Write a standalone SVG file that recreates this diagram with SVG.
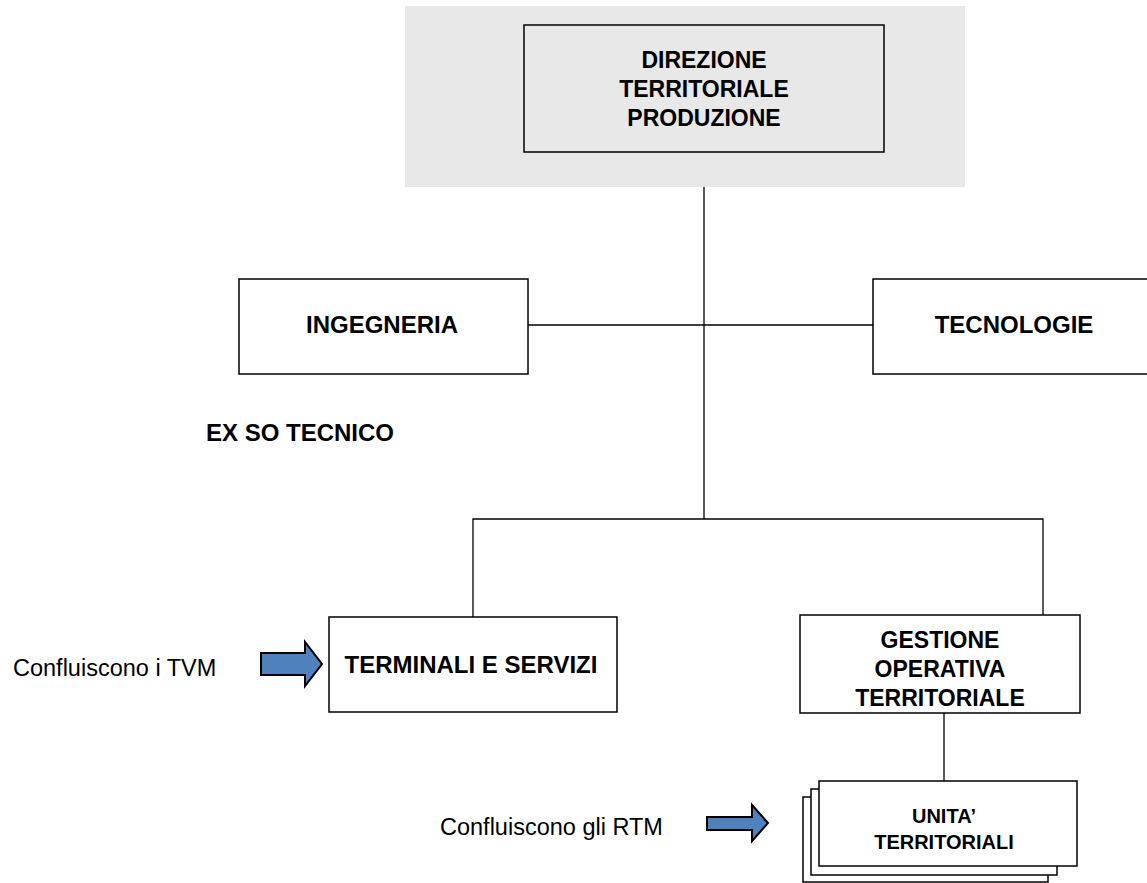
<svg xmlns="http://www.w3.org/2000/svg" width="1147" height="883" viewBox="0 0 1147 883">
<style>
.box{fill:#fff;stroke:#000;stroke-width:1.5}
.b{font-family:"Liberation Sans",Arial,sans-serif;font-weight:bold;font-size:24px;fill:#000;text-anchor:middle}
.m{font-size:23px}
.r{font-family:"Liberation Sans",Arial,sans-serif;font-size:23.5px;fill:#000}
.conn{fill:none;stroke:#000;stroke-width:1.3}
.arr{fill:#4f81bd;stroke:#000;stroke-width:2;stroke-linejoin:miter}
</style>
<rect x="405" y="6" width="560" height="181" fill="#e8e8e8"/>
<g id="connectors">
<path class="conn" d="M704 187V519"/>
<path class="conn" d="M528 325H873"/>
<path class="conn" d="M473 617V519H1043V615"/>
<path class="conn" d="M944 713V781"/>
</g>
<g id="direzione">
<rect x="524" y="25" width="360" height="127" fill="#e8e8e8" stroke="#000" stroke-width="1.5"/>
<text class="b m" x="704" y="68">DIREZIONE</text>
<text class="b m" x="704" y="97">TERRITORIALE</text>
<text class="b m" x="704" y="126">PRODUZIONE</text>
</g>
<g id="ingegneria">
<rect class="box" x="239" y="279" width="289" height="95"/>
<text class="b" x="382" y="333">INGEGNERIA</text>
</g>
<g id="tecnologie">
<rect class="box" x="873" y="279" width="290" height="95"/>
<text class="b" x="1014" y="333">TECNOLOGIE</text>
</g>
<text class="b" x="300" y="441">EX SO TECNICO</text>
<g id="terminali">
<rect class="box" x="329" y="617" width="288" height="95"/>
<text class="b" x="471" y="673">TERMINALI E SERVIZI</text>
</g>
<g id="gestione">
<rect class="box" x="800" y="615" width="280" height="98"/>
<text class="b m" x="940" y="648">GESTIONE</text>
<text class="b m" x="940" y="677">OPERATIVA</text>
<text class="b m" x="940" y="706">TERRITORIALE</text>
</g>
<g id="unita">
<rect class="box" x="803" y="797" width="245" height="85"/>
<rect class="box" x="811" y="789" width="246" height="86"/>
<rect class="box" x="819" y="781" width="258" height="85"/>
<text class="b" x="944" y="823" style="font-size:20px">UNITA’</text>
<text class="b" x="944" y="849" style="font-size:20px">TERRITORIALI</text>
</g>
<g id="tvm">
<text class="r" x="13" y="676">Confluiscono i TVM</text>
<path class="arr" d="M261 653H305V642L322 664L305 686V675H261Z"/>
</g>
<g id="rtm">
<text class="r" x="440" y="835">Confluiscono gli RTM</text>
<path class="arr" d="M707 817H752V805L768 823L752 841V830H707Z"/>
</g>
</svg>
